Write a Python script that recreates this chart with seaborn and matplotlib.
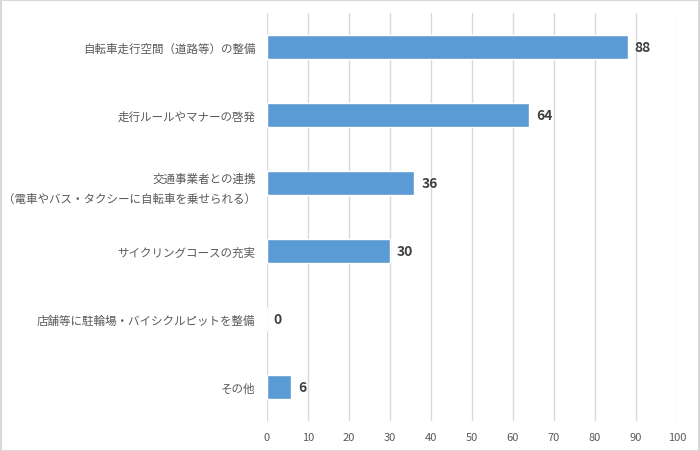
import matplotlib
matplotlib.use("Agg")
import matplotlib.pyplot as plt
import seaborn as sns
import pandas as pd

# Chart data
categories = [
    "自転車走行空間（道路等）の整備",
    "走行ルールやマナーの啓発",
    "交通事業者との連携\n（電車やバス・タクシーに自転車を乗せられる）",
    "サイクリングコースの充実",
    "店舗等に駐輪場・バイシクルピットを整備",
    "その他",
]
values = [88, 64, 36, 30, 0, 6]
x_ticks = [0, 10, 20, 30, 40, 50, 60, 70, 80, 90, 100]

sns.set_theme(style="white")
plt.rcParams['font.family'] = ['Noto Sans CJK JP', 'DejaVu Sans']

df = pd.DataFrame({"item": categories, "count": values})

fig = plt.figure(figsize=(7, 4.52), dpi=100)
ax = fig.add_axes([0.381, 0.066, 0.586, 0.903])

sns.barplot(data=df, x="count", y="item", orient="h", color="#5b9bd5",
            saturation=1, width=0.35, ax=ax)

ax.set_xlim(0, 100)
ax.set_ylim(5.5, -0.5)
ax.set_xticks(x_ticks)
ax.xaxis.grid(True, color="#d9d9d9", linewidth=1)
ax.set_axisbelow(True)
for s in ax.spines.values():
    s.set_visible(False)
ax.tick_params(axis="both", length=0)
ax.tick_params(axis="x", labelsize=8, labelcolor="#595959", pad=8)
ax.tick_params(axis="y", labelsize=8.3, labelcolor="#595959", pad=8)
for lab in ax.get_yticklabels():
    lab.set_linespacing(1.7)
ax.set_xlabel("")
ax.set_ylabel("")

for i, v in enumerate(values):
    ax.annotate(str(v), (v, i), xytext=(5, 0), textcoords="offset points",
                va="center", ha="left", fontsize=10, fontweight="bold",
                color="#404040")

# outer border
fig.patches.append(plt.Rectangle((0.001, 0.001), 0.998, 0.997, transform=fig.transFigure,
                                 fill=False, edgecolor="#d9d9d9", linewidth=1.5))

fig.savefig("out.png", dpi=100)
